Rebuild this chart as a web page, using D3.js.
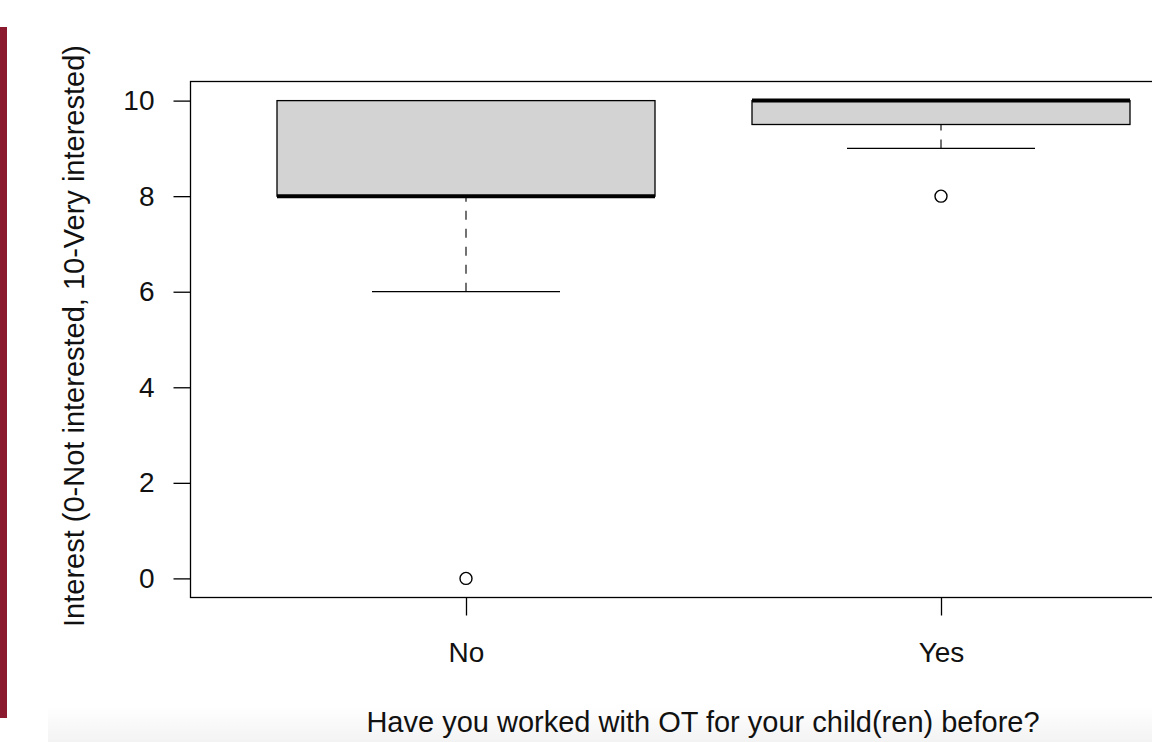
<!DOCTYPE html>
<html><head><meta charset="utf-8">
<script src="https://cdn.jsdelivr.net/npm/d3@7"></script>
<style>html,body{margin:0;padding:0;background:#fff;}svg{display:block;}</style>
</head><body>
<svg id="chart" width="1152" height="742"></svg>
<script>
const categories = ["No", "Yes"];
const q1 = [8, 9.5];
const medians = [8, 10];
const q3 = [10, 10];
const whiskerLow = [6, 9];
const whiskerHigh = [10, 10];
const outliers = [[0], [8]];
const yTicks = [0, 2, 4, 6, 8, 10];
const yTitle = "Interest (0-Not interested, 10-Very interested)";
const xTitle = "Have you worked with OT for your child(ren) before?";

(function () {
const svg = d3.select("#chart");
const font = "'Liberation Sans', Arial, Helvetica, sans-serif";

// decorative left bar and faint bottom band
svg.append("rect").attr("x", 0).attr("y", 27).attr("width", 7).attr("height", 691).attr("fill", "#8b1a2e");
const grad = svg.append("defs").append("linearGradient").attr("id", "band").attr("x1", 0).attr("x2", 0).attr("y1", 0).attr("y2", 1);
grad.append("stop").attr("offset", "0").attr("stop-color", "#ffffff");
grad.append("stop").attr("offset", "1").attr("stop-color", "#f3f3f3");
svg.append("rect").attr("x", 48).attr("y", 706).attr("width", 1104).attr("height", 36).attr("fill", "url(#band)");

const y = d3.scaleLinear().domain([-0.4, 10.4]).range([597.5, 81.5]);
const x = d3.scaleLinear().domain([1, 2]).range([466, 941]);
const boxW = 378;
const whiskHalf = 94;

// plot frame (right edge off-canvas)
const pLeft = 190.5, pRight = 1230, pTop = y(10.4), pBottom = y(-0.4);
svg.append("rect").attr("x", pLeft).attr("y", pTop).attr("width", pRight - pLeft).attr("height", pBottom - pTop)
  .attr("fill", "none").attr("stroke", "#000").attr("stroke-width", 1.3);

// y axis
const yAxis = d3.axisLeft(y).tickValues(yTicks).tickSize(17).tickPadding(19).tickFormat(d3.format("d"));
const ga = svg.append("g").attr("transform", `translate(${pLeft},0)`).call(yAxis);
ga.attr("font-size", 28).attr("font-family", font);
ga.select(".domain").remove();
ga.selectAll("line").attr("stroke", "#000").attr("stroke-width", 1.3);
ga.selectAll("text").style("font-family", font).style("font-size", "28px").attr("fill", "#111");

// x axis
const xAxis = d3.axisBottom(x).tickValues([1, 2]).tickSize(18).tickPadding(26.5).tickFormat((d, i) => categories[i]);
const gx = svg.append("g").attr("transform", `translate(0,${pBottom})`).call(xAxis);
gx.attr("font-size", 28).attr("font-family", font);
gx.select(".domain").remove();
gx.selectAll("line").attr("stroke", "#000").attr("stroke-width", 1.3);
gx.selectAll("text").style("font-family", font).style("font-size", "28px").attr("fill", "#111");

// boxes
const data = categories.map((c, i) => ({c, i, q1: q1[i], med: medians[i], q3: q3[i], lo: whiskerLow[i], hi: whiskerHigh[i], out: outliers[i]}));
const g = svg.append("g");
data.forEach(d => {
  const cx = x(d.i + 1);
  if (d.lo < d.q1) {
    g.append("line").attr("x1", cx).attr("x2", cx).attr("y1", y(d.lo)).attr("y2", y(d.q1))
      .attr("stroke", "#444").attr("stroke-width", 1.5).attr("stroke-dasharray", "9,9");
  }
  if (d.hi > d.q3) {
    g.append("line").attr("x1", cx).attr("x2", cx).attr("y1", y(d.hi)).attr("y2", y(d.q3))
      .attr("stroke", "#444").attr("stroke-width", 1.5).attr("stroke-dasharray", "9,9");
  }
  [d.lo, d.hi].forEach(v => {
    g.append("line").attr("x1", cx - whiskHalf).attr("x2", cx + whiskHalf).attr("y1", y(v)).attr("y2", y(v))
      .attr("stroke", "#000").attr("stroke-width", 1.3);
  });
  g.append("rect").attr("x", cx - boxW / 2).attr("y", y(d.q3)).attr("width", boxW).attr("height", y(d.q1) - y(d.q3))
    .attr("fill", "#d3d3d3").attr("stroke", "#000").attr("stroke-width", 1.3);
  g.append("line").attr("x1", cx - boxW / 2).attr("x2", cx + boxW / 2).attr("y1", y(d.med)).attr("y2", y(d.med))
    .attr("stroke", "#000").attr("stroke-width", 4);
  d.out.forEach(v => {
    g.append("circle").attr("cx", cx).attr("cy", y(v)).attr("r", 6)
      .attr("fill", "none").attr("stroke", "#000").attr("stroke-width", 1.4);
  });
});

// titles
svg.append("text").attr("x", 703).attr("y", 732).attr("text-anchor", "middle")
  .style("font-family", font).style("font-size", "29px").attr("fill", "#111").text(xTitle);
svg.append("text").attr("transform", "translate(84,336) rotate(-90)").attr("text-anchor", "middle")
  .style("font-family", font).style("font-size", "29px").attr("fill", "#111").text(yTitle);
})();
</script>
</body></html>
